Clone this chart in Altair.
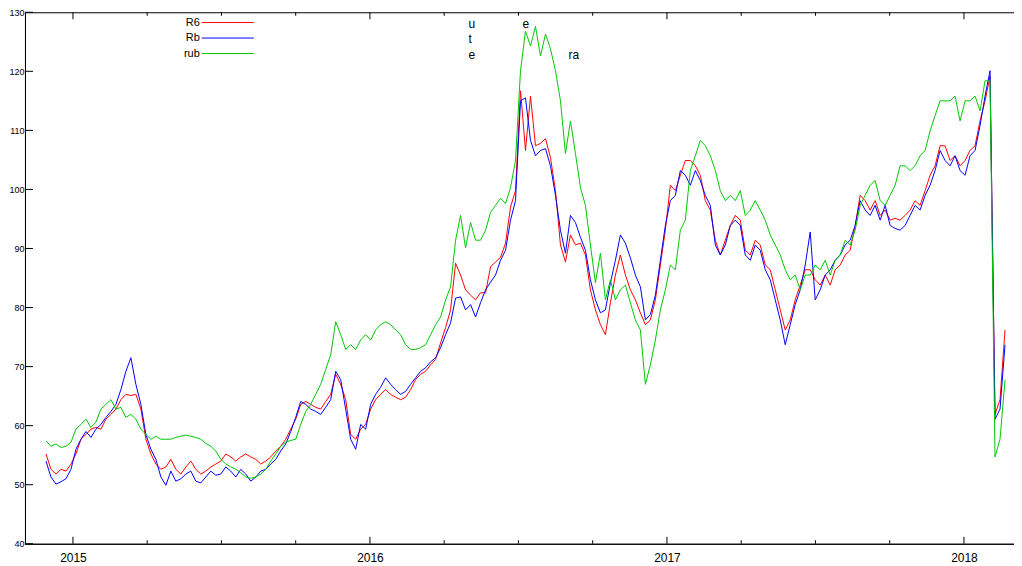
import altair as alt
import pandas as pd

# ---- data ----
SERIES = ["R6", "Rb", "rub"]
COLORS = ["#ff0000", "#0000ff", "#00c800"]

# sampling axis: one reading every ~6 days, starting late Nov 2014 (fractional years)
T_START = 2014.9092
T_STEP = 0.016818

red = [
    55.2, 52.6, 51.8, 52.6, 52.3, 53.5, 55.2, 57.7, 58.5, 59.4,
    59.7, 59.4, 61.1, 61.9, 62.8, 64.4, 65.3, 65.1, 65.3, 62.8,
    57.7, 55.2, 53.5, 52.6, 53.0, 54.3, 52.6, 51.8, 53.0, 54.0,
    52.6, 51.8, 52.3, 53.0, 53.5, 54.0, 55.2, 54.7, 54.0, 54.7,
    55.2, 54.7, 54.3, 53.5, 54.0, 54.7, 55.7, 56.5, 57.7, 59.4,
    61.1, 63.6, 64.1, 63.6, 63.1, 62.8, 64.1, 65.3, 68.7, 67.0,
    64.4, 58.5, 57.7, 59.4, 60.2, 62.8, 64.4, 65.3, 66.1, 65.3,
    64.8, 64.4, 64.8, 66.1, 67.8, 68.7, 69.2, 70.3, 71.2, 74.0,
    76.6, 79.6, 87.5, 85.5, 83.0, 82.1, 81.3, 82.5, 82.5, 86.9,
    87.7, 88.5, 90.9, 97.0, 99.8, 116.7, 106.6, 115.8, 107.4, 107.8,
    108.6, 105.4, 99.8, 90.6, 87.7, 92.3, 90.6, 90.9, 88.9, 83.0,
    79.6, 77.1, 75.4, 80.8, 85.5, 88.9, 85.5, 83.0, 81.3, 79.1,
    77.1, 77.9, 81.3, 87.2, 93.1, 100.7, 99.8, 102.4, 104.9, 104.9,
    104.0, 102.4, 98.1, 96.5, 91.4, 88.9, 91.4, 93.9, 95.6, 94.8,
    89.7, 88.9, 91.4, 90.6, 87.2, 86.4, 83.0, 79.6, 76.2, 77.9,
    81.3, 83.8, 86.4, 86.4, 84.7, 83.8, 85.5, 83.8, 86.4, 87.2,
    88.9, 89.7, 93.9, 99.0, 98.1, 96.5, 98.1, 95.6, 96.5, 94.8,
    95.1, 94.8, 95.6, 96.5, 98.1, 97.3, 99.8, 102.4, 104.0, 107.4,
    107.4, 104.9, 105.7, 104.0, 104.9, 106.6, 107.4, 111.6, 115.0, 119.2,
    61.9, 64.4, 76.2,
]

blue = [
    54.0, 51.3, 50.1, 50.5, 51.0, 52.6, 56.0, 57.7, 59.0, 58.0,
    59.4, 60.2, 61.4, 62.4, 63.6, 66.1, 69.2, 71.5, 67.0, 63.6,
    58.5, 56.0, 54.3, 51.3, 49.9, 52.3, 50.6, 51.0, 51.8, 52.3,
    50.6, 50.3, 51.3, 52.3, 51.6, 51.8, 53.0, 52.3, 51.3, 52.6,
    51.8, 50.6, 51.3, 52.3, 52.6, 53.5, 54.3, 55.7, 56.9, 59.0,
    61.4, 64.1, 63.6, 62.8, 62.4, 61.9, 63.1, 64.4, 69.2, 67.8,
    62.8, 57.7, 56.0, 60.2, 59.4, 63.6, 65.3, 66.5, 68.1, 67.0,
    66.1, 65.3, 65.8, 67.0, 68.1, 69.2, 69.8, 70.8, 71.5, 73.2,
    75.4, 77.4, 81.6, 81.8, 79.6, 80.5, 78.4, 80.8, 83.0, 84.3,
    85.5, 88.0, 89.7, 94.8, 98.1, 115.0, 115.5, 108.3, 105.7, 106.6,
    106.9, 104.0, 99.0, 93.1, 89.2, 95.6, 94.4, 91.9, 89.7, 84.7,
    81.3, 79.1, 79.6, 84.2, 88.0, 92.3, 90.9, 88.4, 85.5, 83.5,
    77.9, 78.8, 82.1, 88.0, 93.9, 98.1, 99.0, 103.2, 102.4, 100.7,
    103.2, 101.5, 99.0, 97.3, 90.6, 88.9, 90.6, 93.9, 94.8, 93.9,
    88.9, 88.0, 90.6, 89.7, 86.4, 84.7, 81.3, 77.9, 73.7, 77.1,
    80.5, 83.0, 87.2, 92.8, 81.3, 83.0, 85.5, 86.4, 88.0, 88.9,
    90.6, 91.4, 93.9, 98.1, 96.5, 95.6, 97.3, 94.8, 97.3, 93.9,
    93.4, 93.1, 93.9, 95.6, 97.3, 96.5, 99.0, 100.7, 103.2, 106.6,
    104.9, 104.0, 105.7, 103.2, 102.4, 105.7, 106.6, 110.8, 115.8, 120.1,
    61.1, 62.8, 73.7,
]

green = [
    57.4, 56.5, 56.9, 56.3, 56.5, 57.2, 59.4, 60.2, 61.1, 59.7,
    60.6, 62.8, 63.6, 64.4, 62.8, 63.1, 61.4, 61.9, 61.1, 59.4,
    58.5, 57.7, 58.2, 57.7, 57.7, 57.7, 58.0, 58.2, 58.4, 58.2,
    58.0, 57.7, 57.0, 56.5, 55.7, 54.3, 53.5, 53.0, 52.6, 52.0,
    51.3, 51.1, 51.3, 51.8, 52.6, 54.0, 55.2, 56.5, 57.2, 57.5,
    57.7, 60.2, 62.4, 63.6, 65.3, 67.0, 69.5, 72.0, 77.6, 75.4,
    72.9, 73.7, 72.9, 74.5, 75.4, 74.5, 76.2, 77.1, 77.6, 77.1,
    76.2, 75.4, 73.7, 72.9, 72.9, 73.2, 73.7, 75.4, 77.1, 78.4,
    81.3, 83.5, 91.4, 95.6, 90.1, 94.4, 91.4, 91.4, 93.1, 96.1,
    97.3, 98.5, 97.6, 100.3, 104.9, 120.1, 126.8, 124.3, 127.6, 122.6,
    126.3, 123.8, 120.1, 115.0, 106.1, 111.6, 106.1, 100.3, 97.3, 90.6,
    84.2, 89.2, 81.3, 84.7, 81.3, 83.0, 83.8, 80.8, 77.9, 76.2,
    67.0, 70.3, 74.5, 79.6, 83.0, 87.2, 86.4, 93.1, 94.8, 103.2,
    105.7, 108.3, 107.4, 105.7, 103.2, 99.8, 98.1, 99.0, 98.1, 99.8,
    95.6, 96.5, 98.1, 96.5, 94.8, 92.3, 90.6, 88.9, 86.4, 84.7,
    85.5, 83.0, 85.5, 85.5, 87.2, 86.4, 88.0, 85.5, 88.0, 88.9,
    91.4, 90.6, 93.1, 97.3, 99.0, 100.7, 101.5, 98.1, 97.3, 99.0,
    100.7, 104.0, 104.0, 103.2, 104.0, 105.7, 106.6, 109.9, 112.5, 115.0,
    115.0, 115.0, 115.8, 111.6, 115.0, 115.0, 115.8, 113.3, 118.4, 118.4,
    54.7, 57.7, 67.8,
]

YEAR_TICKS = [2015, 2016, 2017, 2018]
QUARTER_TICKS = [2015.25, 2015.5, 2015.75, 2016.25, 2016.5, 2016.75,
                 2017.25, 2017.5, 2017.75]
Y_TICKS = [40, 50, 60, 70, 80, 90, 100, 110, 120, 130]

# ---- layout ----
W, H = 990, 532
X_DOMAIN = [2014.8385, 2018.1685]
FONT = "Liberation Sans"

n = len(red)
assert len(blue) == n and len(green) == n
t = [round(T_START + i * T_STEP, 5) for i in range(n)]

x_enc = alt.X("t:Q", scale=alt.Scale(domain=X_DOMAIN, nice=False, zero=False),
              axis=alt.Axis(values=YEAR_TICKS, format="d", ticks=False, grid=False,
                            labelFontSize=12, labelPadding=9, title=None,
                            domainColor="black", labelColor="black", labelFont=FONT))
y_enc = alt.Y("v:Q", scale=alt.Scale(domain=[40, 130], nice=False, zero=False),
              axis=alt.Axis(values=Y_TICKS, ticks=False, grid=False, labelFontSize=9,
                            labelPadding=1, title=None, domainColor="black",
                            labelColor="black", labelFont=FONT))

layers = []
for name, vals, col in zip(SERIES, [red, blue, green], COLORS):
    d = pd.DataFrame({"t": t, "v": vals, "series": name})
    layers.append(alt.Chart(d).mark_line(strokeWidth=1, color=col, clip=True)
                  .encode(x=x_enc, y=y_enc))

maj = pd.DataFrame({"t": YEAR_TICKS})
mnr = pd.DataFrame({"t": QUARTER_TICKS})
for d, ln in [(maj, 7), (mnr, 3.5)]:
    layers.append(alt.Chart(d).mark_rule(color="black", strokeWidth=1)
                  .encode(x=x_enc, y=alt.value(H), y2=alt.value(H - ln)))
    layers.append(alt.Chart(d).mark_rule(color="black", strokeWidth=1)
                  .encode(x=x_enc, y=alt.value(0), y2=alt.value(ln)))
yt = pd.DataFrame({"v": Y_TICKS})
layers.append(alt.Chart(yt).mark_rule(color="black", strokeWidth=1)
              .encode(y=y_enc, x=alt.value(0), x2=alt.value(8)))

# key (label left of sample line)
one = pd.DataFrame({"k": [0]})
for i, (name, col) in enumerate(zip(SERIES, COLORS)):
    yy = 10.3 + 15.5 * i
    layers.append(alt.Chart(one).mark_rule(color=col, strokeWidth=1)
                  .encode(x=alt.value(177), x2=alt.value(229), y=alt.value(yy)))
    layers.append(alt.Chart(one).mark_text(text=name, align="right", baseline="middle",
                                           fontSize=11, font=FONT, color="black")
                  .encode(x=alt.value(175), y=alt.value(yy)))

# labels at the top of the plot
notes = [("u", 444, 12), ("t", 444, 27), ("e", 444, 42.5),
         ("e", 498, 12), ("ra", 544, 42.5)]
for txt, xx, yy in notes:
    layers.append(alt.Chart(one).mark_text(text=txt, align="left", baseline="middle",
                                           fontSize=12, font=FONT, color="black")
                  .encode(x=alt.value(xx), y=alt.value(yy)))

chart = (alt.layer(*layers)
         .properties(width=W, height=H, padding={"left": 0, "top": 0, "right": 0, "bottom": 0},
                     background="white")
         .configure_view(stroke="black", strokeWidth=1))

chart.save("out.html", embed_options={"renderer": "svg", "actions": False})
